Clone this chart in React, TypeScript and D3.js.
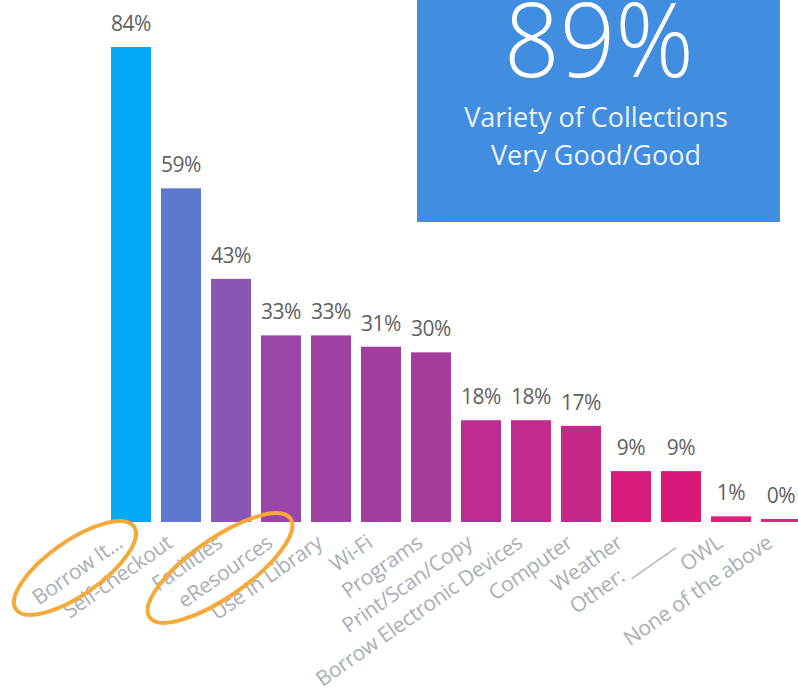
import React from 'react';
import { scaleBand, scaleLinear } from 'd3';

const categories = [
  'Borrow It...', 'Self-checkout', 'Facilities', 'eResources', 'Use in Library', 'Wi-Fi',
  'Programs', 'Print/Scan/Copy', 'Borrow Electronic Devices', 'Computer', 'Weather',
  'Other: ______', 'OWL', 'None of the above',
];
const values = [84, 59, 43, 33, 33, 31, 30, 18, 18, 17, 9, 9, 1, 0];
const colors = [
  '#03a9f4', '#5e78cf', '#8a56b6', '#9b45a8', '#9f41a2', '#a33e9f', '#a63c9c',
  '#bd2d8f', '#c02b8c', '#c4298a', '#d81a7b', '#da1879', '#e01d7c', '#e3227f',
];
const kpiValue = '89%';
const kpiLines = ['Variety of Collections', 'Very Good/Good'];

const W = 798;
const H = 695;
const base = 522;

const App = () => {
  const x = scaleBand<string>().domain(categories).range([106, 806]).paddingInner(0.2).paddingOuter(0.1);
  const y = scaleLinear().domain([0, 84]).range([base, 47]);
  const font = '"Segoe UI", "Open Sans", "Noto Sans", sans-serif';

  return (
    <svg width={W} height={H} style={{ position: 'absolute', left: 0, top: 0, background: '#fff' }} fontFamily={font}>
      {categories.map((c, i) => {
        const v = values[i];
        const top = v === 0 ? base - 3 : Math.min(y(v), base - 3);
        const cx = x(c)! + x.bandwidth() / 2;
        return (
          <g key={c}>
            <rect x={x(c)} y={top} width={x.bandwidth()} height={base - top} fill={colors[i]} />
            <text x={cx} y={top - 16} textAnchor="middle" fontSize={21} letterSpacing={-0.5} fill="#5f5f5f">
              {v}%
            </text>
            <text
              transform={`translate(${cx - 7}, 546) rotate(-35)`}
              textAnchor="end" fontSize={21} letterSpacing={-0.3} fill="#a9aeb4"
            >
              {c}
            </text>
          </g>
        );
      })}

      <rect x={417} y={0} width={363} height={222} fill="#418ddf" />
      <text x={599} y={77} textAnchor="middle" fontSize={104} fontWeight={300} fill="#fff"
        textLength={190} lengthAdjust="spacingAndGlyphs">{kpiValue}</text>
      {kpiLines.map((t, i) => (
        <text key={t} x={596} y={127 + i * 38} textAnchor="middle" fontSize={27} fill="#fff" fillOpacity={0.92}>{t}</text>
      ))}

      <ellipse cx={75} cy={568} rx={72} ry={27} transform="rotate(-35 75 568)" fill="none" stroke="#f5a938" strokeWidth={4} />
      <ellipse cx={220} cy={568} rx={86} ry={29} transform="rotate(-35 220 568)" fill="none" stroke="#f5a938" strokeWidth={4} />
    </svg>
  );
};

export default App;
